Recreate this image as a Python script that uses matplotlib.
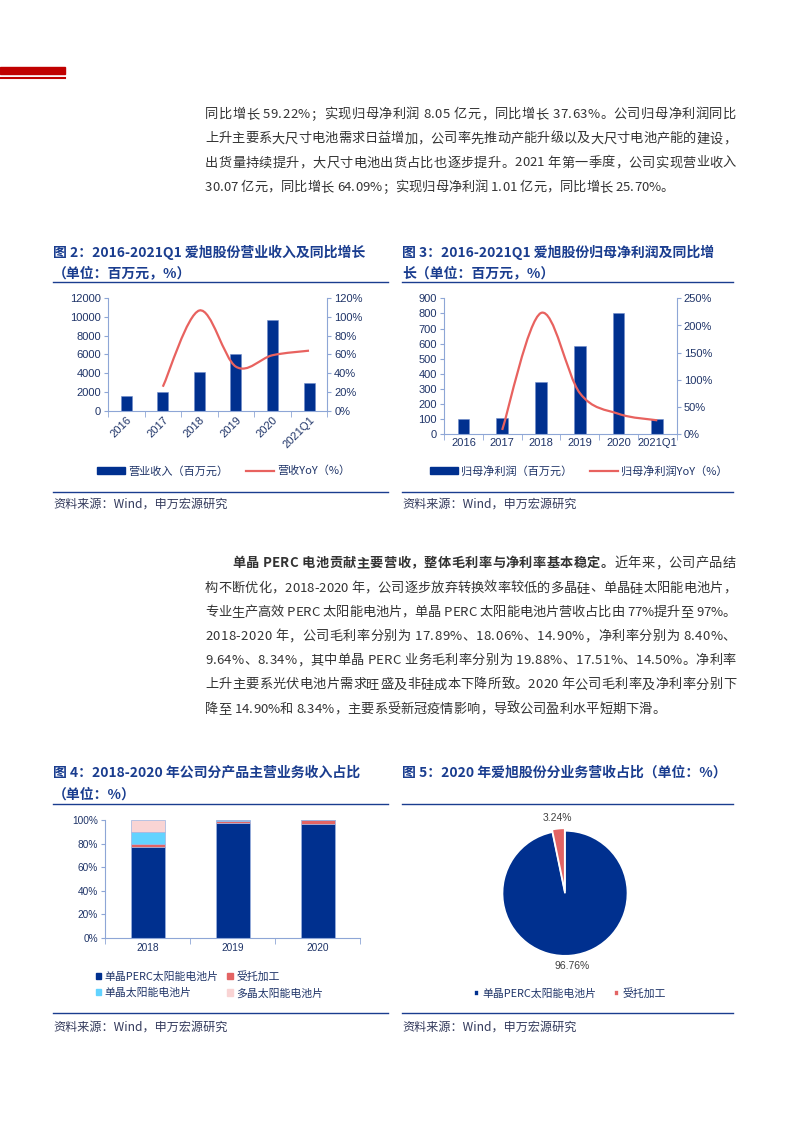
import numpy as np
import matplotlib
matplotlib.use("Agg")
import matplotlib.pyplot as plt
from matplotlib.patches import Rectangle, PathPatch, Patch
from matplotlib.lines import Line2D
from matplotlib.path import Path
from matplotlib.ticker import FuncFormatter

plt.rcParams['font.family'] = ['Noto Sans CJK SC', 'DejaVu Sans']

W, H = 793, 1122

# ---------------- data ----------------
years2 = ['2016', '2017', '2018', '2019', '2020', '2021Q1']
revenue = [1600, 2030, 4160, 6060, 9660, 3007]
revenue_yoy = [np.nan, 25.6, 107, 47, 59.22, 64.09]
net_profit = [100, 106, 345, 585, 805, 101]
profit_yoy = [np.nan, 8, 223, 76, 37.63, 25.70]

years4 = ['2018', '2019', '2020']
perc_share = [77.3, 97.5, 96.76]
oem_share = [2.6, 2.0, 3.24]
mono_share = [9.8, 0.3, 0.0]
poly_share = [10.3, 0.2, 0.0]
seg_names = ['单晶PERC太阳能电池片', '受托加工', '单晶太阳能电池片', '多晶太阳能电池片']

pie_labels = ['单晶PERC太阳能电池片', '受托加工']
pie_values = [96.76, 3.24]

para1 = [
    '同比增长 59.22%；实现归母净利润 8.05 亿元，同比增长 37.63%。公司归母净利润同比',
    '上升主要系大尺寸电池需求日益增加，公司率先推动产能升级以及大尺寸电池产能的建设，',
    '出货量持续提升，大尺寸电池出货占比也逐步提升。2021 年第一季度，公司实现营业收入',
    '30.07 亿元，同比增长 64.09%；实现归母净利润 1.01 亿元，同比增长 25.70%。',
]
para2_bold = '单晶 PERC 电池贡献主要营收，整体毛利率与净利率基本稳定。'
para2 = [
    '近年来，公司产品结',
    '构不断优化，2018-2020 年，公司逐步放弃转换效率较低的多晶硅、单晶硅太阳能电池片，',
    '专业生产高效 PERC 太阳能电池片，单晶 PERC 太阳能电池片营收占比由 77%提升至 97%。',
    '2018-2020 年，公司毛利率分别为 17.89%、18.06%、14.90%，净利率分别为 8.40%、',
    '9.64%、8.34%，其中单晶 PERC 业务毛利率分别为 19.88%、17.51%、14.50%。净利率',
    '上升主要系光伏电池片需求旺盛及非硅成本下降所致。2020 年公司毛利率及净利率分别下',
    '降至 14.90%和 8.34%，主要系受新冠疫情影响，导致公司盈利水平短期下滑。',
]

# ---------------- styles ----------------
BLUE = '#00308F'
RED = '#E8625F'
PIE_RED = '#E36464'
CYAN = '#62D3FF'
PINK = '#F9D4D4'
AXIS = '#8EA6D6'
TICK = '#1F3468'
TITLE = '#1A3D8F'
TEXT = '#333333'
NUM_FONT = ['Liberation Sans', 'Noto Sans CJK SC']
BODY_SIZE = 9.5

fig = plt.figure(figsize=(W / 100, H / 100), dpi=100)
renderer = fig.canvas.get_renderer()


def fy(py):
    return 1 - py / H


def add_ax(l, t, r, b):
    return fig.add_axes([l / W, 1 - b / H, (r - l) / W, (b - t) / H])


def hline(x0, x1, y, color, lw):
    fig.add_artist(Line2D([x0 / W, x1 / W], [fy(y), fy(y)], color=color, lw=lw,
                          transform=fig.transFigure))


def text_width(s, weight='normal'):
    t = fig.text(0, 0, s + '|', fontsize=BODY_SIZE, weight=weight)
    bar = fig.text(0, 0, '|', fontsize=BODY_SIZE, weight=weight)
    w = t.get_window_extent(renderer).width - bar.get_window_extent(renderer).width
    t.remove()
    bar.remove()
    return w


def body_line(segments, x0, y, x1=None):
    # segments: list of (text, weight); spread characters to reach x1 (justified)
    chars = [(ch, wt) for s, wt in segments for ch in s]
    widths = [text_width(ch, wt) for ch, wt in chars]
    extra = 0.0
    if x1 is not None and len(chars) > 1:
        extra = (x1 - x0 - sum(widths)) / (len(chars) - 1)
    x = x0
    for (ch, wt), w in zip(chars, widths):
        if ch != ' ':
            fig.text(x / W, fy(y + 4.6), ch, fontsize=BODY_SIZE, color=TEXT,
                     va='baseline', weight=wt)
        x += w + extra


def smooth_path(xs, ys):
    # Excel-style smoothed line: Catmull-Rom segments as cubic Bezier
    pts = np.column_stack([xs, ys])
    n = len(pts)
    verts = [pts[0]]
    codes = [Path.MOVETO]
    for i in range(n - 1):
        p0 = pts[max(i - 1, 0)]
        p1 = pts[i]
        p2 = pts[i + 1]
        p3 = pts[min(i + 2, n - 1)]
        verts += [p1 + (p2 - p0) / 6, p2 - (p3 - p1) / 6, p2]
        codes += [Path.CURVE4] * 3
    return Path(verts, codes)


def pct_fmt(v, p):
    return f'{v:.0f}%'


def style_combo(ax, ax2, ncat):
    ax.spines['top'].set_visible(False)
    ax.spines['right'].set_visible(False)
    ax2.spines['top'].set_visible(False)
    ax2.spines['left'].set_visible(False)
    ax2.spines['bottom'].set_visible(False)
    for s in ('left', 'bottom'):
        ax.spines[s].set_color(AXIS)
    ax2.spines['right'].set_color(AXIS)
    ax.set_xlim(-0.5, ncat - 0.5)
    ax.set_xticks(range(ncat))
    ax.set_xticks(np.arange(-0.5, ncat), minor=True)
    ax.tick_params(axis='x', which='major', length=0, labelcolor=TICK, labelsize=8, pad=3)
    ax.tick_params(axis='x', which='minor', length=4, color=AXIS)
    ax.tick_params(axis='y', length=3, color=AXIS, labelcolor=TICK, labelsize=8, pad=2)
    ax2.tick_params(axis='y', length=3, color=AXIS, labelcolor=TICK, labelsize=8, pad=2)
    ax2.yaxis.set_major_formatter(FuncFormatter(pct_fmt))
    for lab in ax.get_yticklabels() + ax2.get_yticklabels():
        lab.set_family(NUM_FONT)


# ---------------- header ----------------
fig.add_artist(Rectangle((0, fy(74)), 65 / W, 7 / H, color='#C00000', transform=fig.transFigure))
hline(0, 65, 78, '#C00000', 1.5)

# ---------------- paragraphs ----------------
RIGHT = 736
for i, line in enumerate(para1):
    last = i == len(para1) - 1
    body_line([(line, 'normal')], 205, 113.5 + i * 24.2, None if last else RIGHT)

body_line([(para2_bold, 'bold'), (para2[0], 'normal')], 232, 562.5, RIGHT)
for i, line in enumerate(para2[1:]):
    last = i == len(para2) - 2
    body_line([(line, 'normal')], 205, 587 + i * 24.2, None if last else RIGHT)

# ---------------- titles, rules, sources ----------------
titles = [
    (53, 252, '图 2：2016-2021Q1 爱旭股份营业收入及同比增长'),
    (53, 273, '（单位：百万元，%）'),
    (402, 252, '图 3：2016-2021Q1 爱旭股份归母净利润及同比增'),
    (402, 273, '长（单位：百万元，%）'),
    (53, 773, '图 4：2018-2020 年公司分产品主营业务收入占比'),
    (53, 795, '（单位：%）'),
    (402, 773, '图 5：2020 年爱旭股份分业务营收占比（单位：%）'),
]
for x, y, s in titles:
    fig.text(x / W, fy(y), s, fontsize=10, color=TITLE, weight='bold', va='center')

for x0, x1 in ((53, 388), (402, 733)):
    hline(x0, x1, 282, TITLE, 1.0)
    hline(x0, x1, 492, TITLE, 1.0)
    hline(x0, x1, 803.5, TITLE, 1.0)
    hline(x0, x1, 1013, TITLE, 1.0)

for x in (53, 402):
    fig.text(x / W, fy(504), '资料来源：Wind，申万宏源研究', fontsize=8.7, color='#333A5C', va='center')
    fig.text(x / W, fy(1027), '资料来源：Wind，申万宏源研究', fontsize=8.7, color='#333A5C', va='center')

# ---------------- figure 2 ----------------
ax = add_ax(108, 298.3, 327.3, 410.7)
ax2 = ax.twinx()
x2 = np.arange(len(years2))
ax.bar(x2, revenue, width=0.3, color=BLUE, edgecolor='#6F8CCB', linewidth=0.4)
ax.set_ylim(0, 12000)
ax.set_yticks(range(0, 12001, 2000))
ax2.set_ylim(0, 120)
ax2.set_yticks(range(0, 121, 20))
m = ~np.isnan(revenue_yoy)
ax2.add_patch(PathPatch(smooth_path(x2[m], np.array(revenue_yoy)[m]), fill=False,
                        edgecolor=RED, lw=1.6))
style_combo(ax, ax2, len(years2))
ax.set_xticklabels(years2, rotation=45, ha='right', rotation_mode='anchor', family=NUM_FONT)

fig.legend([Patch(color=BLUE), Line2D([], [], color=RED, lw=1.6)],
           ['营业收入（百万元）', '营收YoY（%）'], loc='center left',
           bbox_to_anchor=(97 / W, fy(471)), frameon=False, fontsize=8, ncol=2,
           handlelength=2.5, handleheight=0.5, handletextpad=0.3, columnspacing=1.6,
           borderpad=0, borderaxespad=0, labelcolor=TICK)

# ---------------- figure 3 ----------------
ax = add_ax(444, 298.3, 676.7, 434.3)
ax2 = ax.twinx()
ax.bar(x2, net_profit, width=0.3, color=BLUE, edgecolor='#6F8CCB', linewidth=0.4)
ax.set_ylim(0, 900)
ax.set_yticks(range(0, 901, 100))
ax2.set_ylim(0, 250)
ax2.set_yticks(range(0, 251, 50))
m = ~np.isnan(profit_yoy)
ax2.add_patch(PathPatch(smooth_path(x2[m], np.array(profit_yoy)[m]), fill=False,
                        edgecolor=RED, lw=1.6))
style_combo(ax, ax2, len(years2))
ax.set_xticklabels(years2, family=NUM_FONT)

fig.legend([Patch(color=BLUE), Line2D([], [], color=RED, lw=1.6)],
           ['归母净利润（百万元）', '归母净利润YoY（%）'], loc='center left',
           bbox_to_anchor=(430 / W, fy(471)), frameon=False, fontsize=8, ncol=2,
           handlelength=2.5, handleheight=0.5, handletextpad=0.3, columnspacing=1.6,
           borderpad=0, borderaxespad=0, labelcolor=TICK)

# ---------------- figure 4 ----------------
ax = add_ax(105, 820, 360, 937.7)
x4 = np.arange(len(years4))
segs = [perc_share, oem_share, mono_share, poly_share]
seg_colors = [BLUE, PIE_RED, CYAN, PINK]
bottom = np.zeros(len(years4))
handles = []
for vals, c in zip(segs, seg_colors):
    ax.bar(x4, vals, bottom=bottom, width=0.4, color=c, edgecolor='#9DB3E0', linewidth=0.5)
    bottom += np.array(vals)
    handles.append(Patch(color=c))
ax.set_ylim(0, 100)
ax.set_yticks(range(0, 101, 20))
ax.yaxis.set_major_formatter(FuncFormatter(pct_fmt))
ax.set_xlim(-0.5, len(years4) - 0.5)
ax.set_xticks(x4)
ax.set_xticklabels(years4, family=NUM_FONT)
ax.set_xticks(np.arange(-0.5, len(years4)), minor=True)
for s in ('top', 'right'):
    ax.spines[s].set_visible(False)
for s in ('left', 'bottom'):
    ax.spines[s].set_color(AXIS)
ax.tick_params(axis='x', which='major', length=0, labelcolor=TICK, labelsize=7.3, pad=4)
ax.tick_params(axis='x', which='minor', length=4, color=AXIS)
ax.tick_params(axis='y', length=3, color=AXIS, labelcolor=TICK, labelsize=7.3, pad=2)
for lab in ax.get_yticklabels():
    lab.set_family(NUM_FONT)

order = [0, 2, 1, 3]
fig.legend([handles[i] for i in order], [seg_names[i] for i in order], loc='center left',
           bbox_to_anchor=(96 / W, fy(984.5)), frameon=False, fontsize=7.8, ncol=2,
           handlelength=0.5, handleheight=0.5, handletextpad=0.3, columnspacing=0.8,
           labelspacing=0.6, borderpad=0, borderaxespad=0, labelcolor=TICK)

# ---------------- figure 5 ----------------
ax = add_ax(502.5, 830.8, 627.5, 955.8)
wedges, _, autotexts = ax.pie(pie_values, colors=[BLUE, PIE_RED], startangle=90,
                              counterclock=False, explode=[0, 0.04],
                              wedgeprops=dict(edgecolor='white', linewidth=1.2),
                              autopct=lambda p: f'{p:.2f}%', pctdistance=1.17)
for t in autotexts:
    t.set_fontsize(7.5)
    t.set_color('#404040')
    t.set_family(NUM_FONT)
ax.set_xlim(-1, 1)
ax.set_ylim(-1, 1)

fig.legend(wedges, pie_labels, loc='center left', bbox_to_anchor=(474 / W, fy(993)),
           frameon=False, fontsize=7.8, ncol=2, handlelength=0.5, handleheight=0.5,
           handletextpad=0.3, columnspacing=1.6, borderpad=0, borderaxespad=0,
           labelcolor=TICK)

fig.savefig('out.png', dpi=100)
